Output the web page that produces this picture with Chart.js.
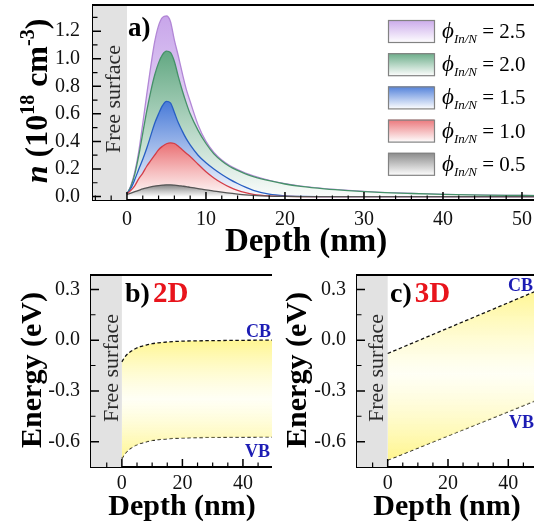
<!DOCTYPE html>
<html><head><meta charset="utf-8">
<script src="https://cdn.jsdelivr.net/npm/chart.js@4.4.0/dist/chart.umd.min.js"></script>
<style>
html,body{margin:0;padding:0;background:#fff;overflow:hidden;width:534px;height:527px;}
.box{position:absolute;}
canvas{display:block;}
</style></head><body>
<div class="box" style="left:0;top:0;"><canvas id="ca" width="540" height="262"></canvas></div>
<div class="box" style="left:0;top:262px;"><canvas id="cb" width="272" height="265"></canvas></div>
<div class="box" style="left:265px;top:262px;"><canvas id="cc" width="280" height="265"></canvas></div>
<script>
// ---------- DATA ----------
// Panel a: carrier density n (1e18 cm^-3) vs depth (nm)
const depthA = [0,0.5,1,1.5,2,2.5,3,3.5,4,4.5,5,5.5,6,6.5,7,7.5,8,9,10,11,12,13,14,15,16,18,20,22,25,28,32,36,40,45,50,53];
const n_phi25 = [0.02,0.08,0.18,0.33,0.53,0.74,0.94,1.12,1.24,1.30,1.31,1.27,1.135,1.02,0.895,0.78,0.69,0.52,0.40,0.32,0.265,0.225,0.195,0.17,0.15,0.118,0.094,0.076,0.057,0.044,0.031,0.022,0.016,0.011,0.008,0.006];
const n_phi20 = [0.02,0.075,0.165,0.30,0.46,0.62,0.76,0.88,0.97,1.03,1.055,1.045,0.98,0.87,0.77,0.68,0.60,0.48,0.385,0.31,0.258,0.218,0.19,0.165,0.145,0.115,0.091,0.074,0.056,0.043,0.030,0.022,0.016,0.011,0.008,0.006];
const n_phi15 = [0.02,0.06,0.125,0.20,0.27,0.35,0.44,0.53,0.60,0.66,0.69,0.68,0.61,0.535,0.475,0.42,0.375,0.30,0.245,0.20,0.16,0.125,0.095,0.068,0.045,0.017,0.005,0.001,0,0,0,0,0,0,0,0];
const n_phi10 = [0.02,0.045,0.08,0.13,0.17,0.22,0.26,0.30,0.34,0.365,0.383,0.39,0.385,0.365,0.34,0.315,0.29,0.235,0.18,0.135,0.098,0.068,0.045,0.028,0.016,0.005,0.001,0,0,0,0,0,0,0,0,0];
const n_phi05 = [0.015,0.025,0.035,0.045,0.055,0.063,0.07,0.076,0.08,0.083,0.085,0.085,0.083,0.08,0.076,0.072,0.067,0.058,0.048,0.04,0.032,0.025,0.018,0.012,0.008,0.003,0.001,0,0,0,0,0,0,0,0,0];
const phiLabels = ['2.5','2.0','1.5','1.0','0.5'];
const xTicksA = [0,10,20,30,40,50];
const yTicksA = [0,0.2,0.4,0.6,0.8,1.0,1.2];

// Panel b: 2D band bending (eV)
const depthB = [0,1,2,3,4,5,6,8,10,12,15,20,25,30,40,50];
const cbB = [-0.128,-0.100,-0.080,-0.066,-0.055,-0.046,-0.039,-0.029,-0.021,-0.016,-0.011,-0.006,-0.004,-0.003,-0.001,0.000];
const vbB = [-0.700,-0.672,-0.652,-0.638,-0.627,-0.618,-0.611,-0.601,-0.593,-0.588,-0.583,-0.578,-0.576,-0.575,-0.573,-0.572];

// Panel c: 3D band bending (eV)
const depthC = [0,52];
const cbC = [-0.079,0.311];
const vbC = [-0.709,-0.337];

const xTicksBC = [0,20,40];
const yTicksBC = [0.3,0,-0.3,-0.6];

// ---------- STYLE ----------
const SERIF = '"Liberation Serif","Times New Roman",serif';
Chart.defaults.font.family = SERIF;
const seriesStyle = [
  {line:'rgb(178,135,214)', top:[200,165,234]},
  {line:'rgb(70,145,105)',  top:[98,168,130]},
  {line:'rgb(40,95,195)',   top:[72,122,216]},
  {line:'rgb(212,62,72)',   top:[234,112,116]},
  {line:'rgb(85,85,85)',    top:[132,132,132]}
];

function xy(xs, ys){ return xs.map((x,i)=>({x:x, y:ys[i]})); }
function mix(c,t){ return 'rgb('+c.map(v=>Math.round(v+(255-v)*t)).join(',')+')'; }

function richWidth(ctx, parts){ let w=0; parts.forEach(p=>{ctx.font=p.f; w+=ctx.measureText(p.t).width+(p.dx||0);}); return w; }
function drawRich(ctx, parts, x, y, align, rot){
  ctx.save(); ctx.translate(x,y); if(rot) ctx.rotate(rot);
  const w = richWidth(ctx, parts);
  let cx = align==='center' ? -w/2 : (align==='right' ? -w : 0);
  ctx.textBaseline='alphabetic'; ctx.textAlign='left';
  parts.forEach(p=>{ ctx.font=p.f; ctx.fillStyle=p.c||'#000'; cx+=(p.dx||0); ctx.fillText(p.t, cx, p.dy||0); cx += ctx.measureText(p.t).width; });
  ctx.restore();
}
function inwardTicks(chart, axis, values, len, lw){
  const ctx = chart.ctx, s = chart.scales[axis], a = chart.chartArea;
  ctx.save(); ctx.strokeStyle='#000'; ctx.lineWidth=lw||1.3; ctx.beginPath();
  values.forEach(v=>{
    const p = s.getPixelForValue(v);
    if(axis==='x'){ if(p<a.left+1||p>a.right) return; ctx.moveTo(p,a.bottom); ctx.lineTo(p,a.bottom-len); }
    else { if(p<a.top||p>a.bottom-1) return; ctx.moveTo(a.left,p); ctx.lineTo(a.left+len,p); }
  });
  ctx.stroke(); ctx.restore();
}
function range(a,b,step){ const r=[]; for(let v=a; v<=b+1e-9; v+=step) r.push(Math.round(v*1000)/1000); return r; }
function topBorder(chart){
  const ctx=chart.ctx, a=chart.chartArea;
  ctx.save(); ctx.strokeStyle='#000'; ctx.lineWidth=2; ctx.beginPath();
  ctx.moveTo(a.left-1,a.top); ctx.lineTo(a.right,a.top); ctx.stroke(); ctx.restore();
}
function surfaceBox(chart, textX, textY, size){
  const ctx=chart.ctx, a=chart.chartArea, x0=chart.scales.x.getPixelForValue(0);
  ctx.save(); ctx.fillStyle='#e2e2e2'; ctx.fillRect(a.left,a.top,x0-a.left,a.bottom-a.top);
  ctx.restore();
  drawRich(ctx,[{t:'Free surface',f:size+'px '+SERIF,c:'#2a2a2a'}],textX,textY,'center',-Math.PI/2);
}

function scaleBase(min,max,ticks,pad,fitFn,fmt){
  return {
    type:'linear', min:min, max:max,
    grid:{display:false, drawTicks:false},
    border:{display:true,color:'#000',width:2},
    ticks:{font:{family:SERIF,size:20},color:'#111',padding:pad,autoSkip:false,maxRotation:0,
      callback:fmt},
    afterBuildTicks:s=>{ s.ticks = ticks.map(v=>({value:v})); },
    afterFit:s=>{ fitFn(s); s.paddingTop=0; s.paddingBottom=0; s.paddingLeft=0; s.paddingRight=0; }
  };
}
const fmtInt = v=>String(Math.round(v));
const fmt1 = v=>v.toFixed(1);
const common = {responsive:false, animation:false, devicePixelRatio:1,
  plugins:{legend:{display:false}, tooltip:{enabled:false}}};

// ---------- PANEL A ----------
const seriesA = [n_phi25,n_phi20,n_phi15,n_phi10,n_phi05];
const dsA = seriesA.map((vals,i)=>({
  data: xy(depthA, vals), order: 4-i,
  borderColor: seriesStyle[i].line, borderWidth:1.3, pointRadius:0,
  cubicInterpolationMode:'monotone', fill:'origin',
  backgroundColor: ctx=>{
    const ch=ctx.chart; if(!ch.chartArea) return 'transparent';
    const y=ch.scales.y, pk=Math.max(...vals);
    const g=ch.ctx.createLinearGradient(0,y.getPixelForValue(pk),0,y.getPixelForValue(0));
    const c=seriesStyle[i].top;
    g.addColorStop(0,mix(c,0)); g.addColorStop(0.55,mix(c,0.55)); g.addColorStop(1,mix(c,0.97));
    return g;
  }
}));

const pluginA = {
  id:'pa',
  beforeDatasetsDraw(chart){ surfaceBox(chart,120,99,22); },
  afterDraw(chart){
    const ctx=chart.ctx;
    topBorder(chart);
    inwardTicks(chart,'x',xTicksA,8,1.5);
    inwardTicks(chart,'x',range(-4,52,2).filter(v=>xTicksA.indexOf(v)<0),4.5,1.2);
    inwardTicks(chart,'y',yTicksA,8,1.5);
    inwardTicks(chart,'y',range(0.1,1.3,0.2),4.5,1.2);
    drawRich(ctx,[{t:'a)',f:'bold 27px '+SERIF}],128,36,'left');
    const B='bold 32px '+SERIF, S='bold 20px '+SERIF;
    drawRich(ctx,[{t:'n',f:'italic bold 32px '+SERIF},{t:' (10',f:B},{t:'18',f:S,dy:-13},{t:' cm',f:B},{t:'-3',f:S,dy:-13},{t:')',f:B}],47,101,'center',-Math.PI/2);
    drawRich(ctx,[{t:'Depth (nm)',f:'bold 33px '+SERIF}],306,251,'center');
    // legend
    phiLabels.forEach((lab,i)=>{
      const bx=388, by=20+33.2*i, bw=46, bh=22, c=seriesStyle[i].top;
      const g=ctx.createLinearGradient(0,by,0,by+bh);
      g.addColorStop(0,mix(c,0.05)); g.addColorStop(1,mix(c,0.97));
      ctx.save(); ctx.fillStyle=g; ctx.fillRect(bx,by,bw,bh);
      ctx.strokeStyle='rgb(130,130,130)'; ctx.lineWidth=1.2; ctx.strokeRect(bx+0.5,by+0.5,bw,bh); ctx.restore();
      drawRich(ctx,[{t:'\u03D5',f:'italic 23px '+SERIF},{t:'In/N',f:'italic 13px '+SERIF,dy:5},{t:' = '+lab,f:'21px '+SERIF}],442,by+bh/2+7,'left');
    });
  }
};

new Chart(document.getElementById('ca'),{
  type:'line', data:{datasets:dsA},
  options:Object.assign({},common,{
    layout:{padding:{top:5,left:0,right:0,bottom:0}},
    scales:{
      x:scaleBase(-4.3,52.28,xTicksA,8,s=>{s.height=62;},fmtInt),
      y:scaleBase(-0.025,1.39,yTicksA,13,s=>{s.width=93;},fmt1)
    }
  }),
  plugins:[pluginA]
});

// ---------- PANELS B & C ----------
function bandGradient(stops){
  return ctx=>{
    const ch=ctx.chart; if(!ch.chartArea) return 'transparent';
    const y=ch.scales.y;
    const p0=y.getPixelForValue(stops[0]), p2=y.getPixelForValue(stops[2]);
    const g=ch.ctx.createLinearGradient(0,p0,0,p2);
    const t=(y.getPixelForValue(stops[1])-p0)/(p2-p0);
    g.addColorStop(0,'rgba(255,244,125,0.85)');
    g.addColorStop(t,'rgba(255,255,235,0.5)');
    g.addColorStop(1,'rgba(255,244,125,0.9)');
    return g;
  };
}
function bandChart(id, depth, cb, vb, xmin, xmax, yFitW, gradStops, label, extra){
  const dash={borderColor:'#111',borderWidth:1.3,borderDash:[3.5,2.5],pointRadius:0,cubicInterpolationMode:'monotone'};
  new Chart(document.getElementById(id),{
    type:'line',
    data:{datasets:[
      Object.assign({data:xy(depth,cb),fill:'+1',backgroundColor:bandGradient(gradStops)},dash),
      Object.assign({data:xy(depth,vb),fill:false},dash)
    ]},
    options:Object.assign({},common,{
      layout:{padding:{top:13,left:0,right:0,bottom:0}},
      scales:{
        x:scaleBase(xmin,xmax,xTicksBC,5,s=>{s.height=60;},fmtInt),
        y:scaleBase(-0.75,0.385,yTicksBC,11,s=>{s.width=yFitW;},fmt1)
      }
    }),
    plugins:[{
      id:'p'+id,
      beforeDatasetsDraw(chart){ surfaceBox(chart,extra.fsX,106,22); },
      afterDraw(chart){
        const ctx=chart.ctx;
        topBorder(chart);
        inwardTicks(chart,'x',xTicksBC,8,1.5);
        inwardTicks(chart,'x',range(-10,55,5).filter(v=>xTicksBC.indexOf(v)<0),4.5,1.2);
        inwardTicks(chart,'y',yTicksBC,8,1.5);
        inwardTicks(chart,'y',[0.15,-0.15,-0.45,-0.75],4.5,1.2);
        drawRich(ctx,[{t:label[0],f:'bold 28px '+SERIF},{t:label[1],f:'bold 29px '+SERIF,c:'#e8141c',dx:3}],125,40,'left');
        drawRich(ctx,[{t:'CB',f:'bold 18px '+SERIF,c:'#1c1cb4'}],extra.cb[0],extra.cb[1],'left');
        drawRich(ctx,[{t:'VB',f:'bold 18px '+SERIF,c:'#1c1cb4'}],extra.vb[0],extra.vb[1],'left');
        drawRich(ctx,[{t:'Energy (eV)',f:'bold 30px '+SERIF}],extra.enX,108,'center',-Math.PI/2);
        drawRich(ctx,[{t:'Depth (nm)',f:'bold 30px '+SERIF}],182,253,'center');
      }
    }]
  });
}
bandChart('cb',depthB,cbB,vbB,-10.2,49.6,91,[0.0,-0.35,-0.72],['b)','2D'],{fsX:118,cb:[246,75],vb:[245,195],enX:41});
bandChart('cc',depthC,cbC,vbC,-10.18,52.17,92,[0.3,-0.2,-0.72],['c)','3D'],{fsX:118,cb:[243,29],vb:[244,166],enX:41});
</script>
</body></html>
